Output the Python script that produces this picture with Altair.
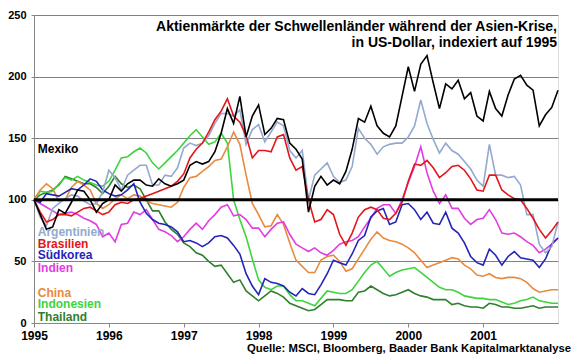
import altair as alt
import pandas as pd

# ---- data (monthly index values, Jan 1995 = 100) ----
countries = ["Thailand", "Indonesien", "China", "Indien", "Südkorea",
             "Argentinien", "Brasilien", "Mexiko"]
colors = ["#2F7F2F", "#3ED43E", "#E98A3C", "#E23DE0", "#2424B8",
          "#93A9CF", "#E3161B", "#000000"]
widths = [1.6, 1.6, 1.6, 1.6, 1.6, 2.2, 1.6, 1.6]

mexiko = [100, 88, 76, 78, 92, 89, 98, 108, 107, 100,
          90, 97, 100, 112, 107, 113, 116, 116, 112, 111,
          117, 113, 111, 113, 116, 128, 131, 129, 131, 139,
          154, 174, 162, 184, 151, 168, 177, 153, 158, 166,
          165, 146, 141, 133, 90, 111, 119, 112, 116, 113,
          123, 141, 166, 163, 176, 160, 154, 151, 160, 184,
          208, 188, 210, 217, 195, 174, 194, 190, 197, 182,
          187, 168, 164, 188, 174, 168, 185, 198, 201, 193,
          189, 160, 169, 175, 189]
argentinien = [100, 86, 79, 93, 97, 101, 104, 103, 99, 96,
               97, 106, 124, 118, 108, 120, 124, 128, 128, 112,
               112, 120, 119, 126, 142, 146, 144, 146, 152, 162,
               170, 170, 168, 173, 145, 157, 161, 147, 155, 163,
               160, 140, 134, 140, 100, 120, 125, 130, 119, 114,
               116, 127, 158, 150, 145, 137, 143, 145, 146, 146,
               151, 160, 181, 162, 149, 138, 146, 140, 137, 131,
               125, 116, 111, 145, 120, 120, 118, 119, 112, 88,
               88, 64, 57, 62, 82]
brasilien = [100, 90, 82, 84, 88, 88, 87, 90, 93, 94,
             91, 88, 90, 96, 98, 97, 100, 101, 103, 105,
             107, 109, 111, 115, 121, 134, 141, 146, 155, 165,
             172, 182, 168, 163, 152, 134, 140, 140, 139, 151,
             153, 134, 124, 127, 100, 82, 84, 92, 88, 72,
             63, 73, 86, 92, 94, 92, 85, 84, 89, 98,
             115, 129, 128, 132, 126, 118, 122, 127, 128, 124,
             117, 108, 107, 120, 120, 108, 104, 101, 100, 93,
             85, 76, 69, 75, 82]
suedkorea = [100, 98, 105, 104, 103, 106, 109, 108, 112, 117,
             115, 108, 105, 103, 104, 108, 113, 98, 89, 84,
             81, 80, 78, 74, 66, 67, 65, 62, 65, 70,
             71, 69, 63, 56, 40, 30, 23, 36, 33, 32,
             30, 25, 22, 28, 24, 23, 31, 40, 51, 49,
             47, 56, 67, 71, 86, 91, 93, 80, 82, 96,
             97, 92, 84, 90, 81, 80, 90, 77, 73, 65,
             54, 49, 47, 60, 55, 47, 54, 58, 53, 52,
             51, 45, 52, 64, 69]
indien = [100, 97, 94, 91, 88, 89, 90, 88, 85, 83,
          80, 70, 73, 66, 80, 81, 90, 88, 92, 84,
          76, 74, 71, 66, 70, 76, 81, 76, 83, 88,
          94, 96, 87, 88, 84, 77, 77, 70, 76, 81,
          82, 72, 64, 61, 58, 61, 57, 55, 59, 64,
          66, 67, 70, 78, 85, 93, 96, 96, 89, 100,
          114, 127, 143, 122, 107, 97, 104, 93, 93, 85,
          80, 84, 85, 92, 84, 73, 72, 73, 70, 66,
          63, 57, 60, 64, 69]
china = [100, 108, 113, 109, 99, 100, 110, 115, 112, 108,
         97, 93, 96, 101, 104, 101, 104, 103, 99, 97,
         96, 95, 94, 98, 110, 118, 119, 123, 127, 132,
         133, 143, 155, 145, 120, 97, 88, 78, 79, 88,
         80, 65, 51, 46, 41, 41, 51, 54, 55, 50,
         42, 44, 52, 60, 68, 74, 69, 67, 66, 64,
         61, 57, 51, 45, 47, 49, 51, 53, 52, 47,
         44, 39, 38, 40, 37, 36, 37, 37, 36, 33,
         28, 25, 26, 27, 27]
indonesien = [100, 107, 106, 107, 113, 118, 116, 119, 116, 114,
              112, 111, 115, 124, 134, 135, 139, 142, 138, 130,
              125, 130, 135, 140, 146, 152, 157, 151, 145, 147,
              154, 146, 100, 84, 70, 52, 35, 29, 27, 30,
              30, 23, 18, 18, 16, 14, 20, 26, 25, 24,
              24, 27, 34, 41, 47, 50, 44, 38, 41, 43,
              44, 45, 41, 37, 33, 29, 27, 27, 25, 22,
              21, 20, 20, 19, 19, 17, 15, 16, 18, 19,
              21, 18, 17, 16, 16]
thailand = [100, 104, 106, 108, 112, 119, 117, 115, 113, 113,
            110, 105, 111, 119, 113, 110, 112, 109, 100, 91,
            91, 82, 76, 72, 65, 62, 57, 55, 50, 46,
            47, 40, 33, 35, 26, 22, 18, 22, 26, 24,
            21, 16, 14, 12, 10, 11, 15, 19, 19, 19,
            18, 18, 25, 26, 30, 27, 24, 22, 23, 25,
            27, 24, 22, 21, 19, 19, 19, 15, 16, 14,
            13, 13, 12, 16, 15, 13, 13, 12, 12, 13,
            14, 12, 13, 13, 13]

series = {"Thailand": thailand, "Indonesien": indonesien, "China": china,
          "Indien": indien, "Südkorea": suedkorea, "Argentinien": argentinien,
          "Brasilien": brasilien, "Mexiko": mexiko}

# label positions (data units: year, index value)
label_names = ["Mexiko", "Argentinien", "Brasilien", "Südkorea", "Indien",
               "China", "Indonesien", "Thailand"]
label_x = [1995.05] * 8
label_y = [138, 71, 60.5, 52, 41.8, 21, 11.8, 2]

year_ticks = [1995, 1996, 1997, 1998, 1999, 2000, 2001]
value_ticks = [0, 50, 100, 150, 200, 250]

title_lines = ["Aktienmärkte der Schwellenländer während der Asien-Krise,",
               "in US-Dollar, indexiert auf 1995"]
source_text = "Quelle: MSCI, Bloomberg, Baader Bank Kapitalmarktanalyse"

# ---- build table ----
rows = []
for name in countries:
    for m, v in enumerate(series[name]):
        rows.append({"land": name, "t": 1995 + m / 12, "v": v})
df = pd.DataFrame(rows)
labels = pd.DataFrame({"land": label_names, "t": label_x, "v": label_y})

FONT = "Liberation Sans"
xscale = alt.Scale(domain=[1995, 2002], nice=False, zero=False)
yscale = alt.Scale(domain=[0, 250], nice=False)
cscale = alt.Scale(domain=countries, range=colors)

lines = alt.Chart(df).mark_line().encode(
    x=alt.X("t:Q", scale=xscale,
            axis=alt.Axis(values=year_ticks, format="d", title=None, grid=False,
                          labelFontSize=12, labelFontWeight="bold", labelColor="black",
                          labelFont=FONT, tickSize=4, tickColor="#888888",
                          domainColor="#888888", labelPadding=3, labelFlush=False,
                          labelOverlap=False)),
    y=alt.Y("v:Q", scale=yscale,
            axis=alt.Axis(values=value_ticks, title=None, grid=True,
                          gridColor="#808080", gridWidth=1,
                          labelFontSize=11, labelFontWeight="bold", labelColor="black",
                          labelFont=FONT, tickSize=3, tickColor="#888888",
                          domainColor="#888888", labelPadding=5)),
    color=alt.Color("land:N", scale=cscale, legend=None),
    size=alt.Size("land:N", scale=alt.Scale(domain=countries, range=widths), legend=None),
    order=alt.Order("t:Q"),
)

base_rule = alt.Chart(pd.DataFrame({"v": [100]})).mark_rule(
    color="black", strokeWidth=3).encode(y=alt.Y("v:Q", scale=yscale))

label_layer = alt.Chart(labels).mark_text(
    align="left", baseline="alphabetic", fontSize=12, fontWeight="bold", font=FONT
).encode(
    x=alt.X("t:Q", scale=xscale),
    y=alt.Y("v:Q", scale=yscale),
    text="land:N",
    color=alt.Color("land:N", scale=cscale, legend=None),
)

title1 = alt.Chart(pd.DataFrame({"s": [title_lines[0]]})).mark_text(
    align="right", baseline="alphabetic", fontSize=14, fontWeight="bold",
    font=FONT, color="black").encode(x=alt.value(523), y=alt.value(16), text="s:N")
title2 = alt.Chart(pd.DataFrame({"s": [title_lines[1]]})).mark_text(
    align="right", baseline="alphabetic", fontSize=14, fontWeight="bold",
    font=FONT, color="black").encode(x=alt.value(523), y=alt.value(31.5), text="s:N")
source = alt.Chart(pd.DataFrame({"s": [source_text]})).mark_text(
    align="right", baseline="alphabetic", fontSize=11.3, fontWeight="bold",
    font=FONT, color="black").encode(x=alt.value(537), y=alt.value(337), text="s:N")

chart = alt.layer(lines, base_rule, label_layer, title1, title2, source).properties(
    width=524, height=308,
    autosize=alt.AutoSizeParams(type="none"),
    padding={"left": 26, "top": 7, "right": 14, "bottom": 34},
).configure_view(stroke="#909090", strokeWidth=1).configure(font=FONT)

chart.save("out.html", embed_options={"renderer": "svg", "actions": False})
